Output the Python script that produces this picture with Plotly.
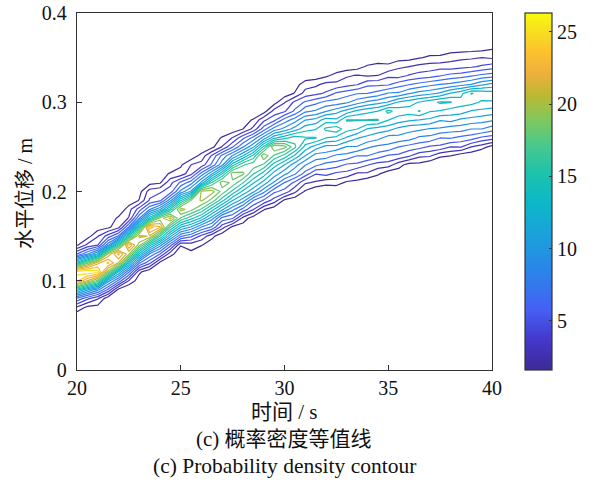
import plotly.graph_objects as go

FONT = "Liberation Serif, Noto Sans CJK SC"
DARK = "#333333"

times = [20 + 0.5 * i for i in range(41)]
first_y = [6, 6, 7, 8, 8, 9, 10, 11, 11, 12, 13, 13, 13, 14, 15, 15, 16, 17, 17, 18, 18,
           19, 20, 20, 20, 20, 21, 21, 21, 22, 22, 22, 23, 23, 23, 23, 24, 24, 24, 25, 25]
density_columns = [
    [0.5, 2.6, 6.5, 14, 24, 25.5, 14, 5.5, 1.4],
    [0.1, 1.2, 4.5, 11, 21, 26.2, 18, 8, 3.2, 1.0],
    [1.1, 3.0, 8.5, 18, 25.6, 22, 11, 4.2, 2.8, 0.9],
    [0.7, 5.2, 10, 19, 24, 20, 9, 4.8, 1.3, 0.6],
    [0.5, 1.2, 6.5, 12, 21, 24.2, 16, 7, 2.5, 1.9, 0.3],
    [0.1, 2.8, 7, 13, 20, 23.8, 15, 7, 3, 2.4, 0.5],
    [0.8, 1.9, 7, 13, 19, 21.5, 15, 8, 4.8, 1.7, 1.1],
    [0.6, 4.5, 8, 14, 21, 24.4, 14, 8, 4.4, 3.5, 1.1, 0.5],
    [0.4, 1.2, 5.5, 10, 16, 22.6, 19, 10.5, 5.2, 4, 1.4, 0.8],
    [0.2, 2.1, 6, 11, 16, 21.5, 15, 9, 4.8, 3.8, 1.8, 0.1],
    [0.7, 1.7, 7, 12, 17, 20.4, 14.5, 8.5, 5.8, 2.1, 1.4, 0.1],
    [1.3, 2.1, 5.8, 10.5, 15, 19, 18.6, 11, 7.5, 3.8, 2.9, 0.7, 0.3],
    [0.1, 1.7, 3.8, 8, 13, 17, 20, 20.2, 11, 7.3, 3.4, 2.1, 0.3],
    [0.8, 2, 6.6, 10, 14, 18, 20.4, 16, 10.5, 5.8, 4.4, 1.2, 0.6],
    [0.6, 3.4, 6.3, 11, 15, 18, 19.2, 14.5, 9, 7.2, 3, 1.8, 0.2],
    [0.3, 1.2, 5.6, 8.5, 12, 15.5, 18.2, 19.2, 14, 9.5, 5.4, 3, 0.7],
    [0.9, 2.4, 6.4, 10, 13, 16, 18.8, 17, 12, 8, 5.2, 1.6, 0.9],
    [0.8, 4.3, 6.8, 11, 13.5, 16, 18, 15, 10.5, 7.3, 3.3, 1.8, 0.2],
    [0.5, 1.7, 5.3, 8.5, 11.5, 14, 17, 19.6, 15, 10, 6.2, 3.9, 1],
    [0.8, 3.6, 5.8, 9.2, 11.5, 14, 17, 19.8, 13, 8.7, 5.2, 3.4, 1],
    [0.4, 1.3, 5, 6.8, 9.8, 12, 15.4, 19, 14.2, 9.8, 7.4, 4, 2.8, 0.8],
    [0.7, 3.2, 5.2, 8.3, 10, 13, 16.2, 15.3, 11.3, 8.8, 5.8, 4.5, 1.7, 1],
    [1.4, 3.1, 6.3, 8.2, 10.7, 12.8, 14.8, 12.8, 10.7, 7.8, 5.7, 3.4, 2.3, 0.6],
    [0.4, 2.7, 4.3, 7.2, 8.8, 11.4, 14.7, 13.2, 11.2, 8.3, 6.4, 3.8, 2.6, 0.8],
    [0.6, 2.0, 4.7, 6.3, 8.8, 10.3, 13.3, 14.9, 12.7, 9.3, 7.2, 4.4, 3.3, 1.3, 0.6],
    [0.2, 2.3, 3.9, 6.2, 7.8, 10.3, 12.9, 15.5, 12.3, 10.2, 7.3, 5.7, 3.2, 2.1, 0.5],
    [1.3, 3.8, 5.3, 7.7, 9.3, 11.8, 13.8, 14.7, 11.2, 7.9, 6.2, 3.7, 2.7, 0.8],
    [1.2, 2.7, 5.2, 6.8, 9.3, 10.8, 13.3, 14.7, 12.3, 8.8, 6.7, 4.1, 3, 1],
    [0.5, 2.7, 4.3, 6.8, 8.3, 10.3, 11.9, 14.7, 12.9, 9.7, 6.8, 5.2, 2.7, 1.8, 0.4],
    [1.9, 3.6, 6.2, 7.8, 9.8, 11.4, 14.7, 13.3, 10.2, 7.3, 5.2, 2.9, 2.2, 0.5],
    [0.7, 3.6, 5.3, 7.8, 8.8, 11.2, 13.3, 15, 10.8, 8.2, 5.3, 3.9, 1.8, 1.1],
    [0.9, 2.1, 5.2, 6.8, 9, 10.3, 12.7, 14, 12.2, 8.3, 6.2, 3.6, 2.7, 1],
    [1.1, 4.4, 6.3, 8.7, 9.8, 12.2, 13.9, 12.7, 9.3, 6.7, 4.3, 2.9, 1.1],
    [1.2, 3.2, 6, 7.8, 9.7, 11.9, 14.7, 13.4, 9.9, 7.2, 4.7, 3.3, 1.5, 0.7],
    [0.5, 3.1, 5.3, 7.7, 9.3, 11.7, 13.4, 14.1, 10.3, 7.7, 4.9, 3.5, 1.8, 0.9],
    [0.4, 1.8, 5.2, 6.8, 9.2, 10.8, 13.2, 14.8, 10.9, 8.1, 5.4, 3.7, 1.8, 1],
    [1.6, 4.2, 6.9, 8.7, 11.1, 12.7, 14.7, 12.1, 8.4, 5.9, 3.5, 2.4, 0.9],
    [0.8, 4.3, 6.4, 8.7, 10.4, 12.7, 13.8, 12.9, 8.9, 6.1, 3.8, 2.6, 1],
    [0.7, 2.9, 6.1, 8.1, 10.2, 11.9, 13.8, 14.7, 9.4, 6.6, 4, 2.7, 1.1],
    [2.2, 5.2, 8.1, 9.9, 11.7, 13.1, 14.2, 10.4, 7.1, 4.4, 2.9, 1.2],
    [1.1, 4.8, 7.4, 9.6, 11.4, 13.2, 13.9, 11.1, 7.4, 4.8, 2.7, 1.5],
]
y_cells = list(range(0, 41))
y_values = [c / 100 for c in y_cells]

z = [[0.0 for _ in times] for _ in y_cells]
for col, (start, values) in enumerate(zip(first_y, density_columns)):
    for k, v in enumerate(values):
        z[start + k][col] = v

parula = [
    [0.00, "#3e2a98"], [0.08, "#4436c8"], [0.17, "#4560f5"], [0.27, "#2c82ea"],
    [0.37, "#1c9fdc"], [0.47, "#0cb8c8"], [0.55, "#1cc2ac"], [0.63, "#48c98c"],
    [0.70, "#80c85e"], [0.77, "#bcb832"], [0.83, "#edb03c"], [0.89, "#fdc02e"],
    [0.95, "#f6e01e"], [1.00, "#f9fb0e"],
]

fig = go.Figure()
fig.add_trace(go.Contour(
    x=times, y=y_values, z=z,
    zmin=1.6, zmax=26.3, colorscale=parula, showscale=False,
    autocontour=False,
    contours=dict(start=1.6, end=26.3, size=1.3, coloring="lines"),
    line=dict(width=1.2, smoothing=0),
    hoverinfo="skip",
))
fig.add_trace(go.Scatter(
    x=[None, None], y=[None, None], mode="markers", showlegend=False,
    marker=dict(
        color=[1.6, 26.3], cmin=1.6, cmax=26.3, colorscale=parula, showscale=True,
        colorbar=dict(
            x=525 / 594, xanchor="left", xref="paper",
            y=(484 - 370) / 484, yanchor="bottom", yref="paper",
            len=357 / 484, lenmode="fraction",
            thickness=27, thicknessmode="pixels",
            outlinecolor=DARK, outlinewidth=1.2,
            ticks="inside", ticklen=3, tickcolor=DARK, tickwidth=1,
            tickvals=[5, 10, 15, 20, 25],
            tickfont=dict(family=FONT, size=20, color="#111"),
            xpad=0, ypad=0,
        ),
    ),
))


def caption(text, y_px, size):
    return dict(text=text, x=284 / 594, y=(484 - y_px) / 484, xref="paper", yref="paper",
                xanchor="center", yanchor="middle", showarrow=False,
                font=dict(family=FONT, size=size, color="#111"))


fig.update_layout(
    width=594, height=484, margin=dict(l=0, r=0, t=0, b=0, autoexpand=False),
    plot_bgcolor="white", paper_bgcolor="white", showlegend=False,
    font=dict(family=FONT, size=20, color="#111"),
    xaxis=dict(
        domain=[77 / 594, 492 / 594], range=[20, 40], tickvals=[20, 25, 30, 35, 40],
        ticks="inside", ticklen=5, tickcolor=DARK, showline=True, mirror=True,
        linecolor=DARK, linewidth=1.3, showgrid=False, zeroline=False,
    ),
    yaxis=dict(
        domain=[(484 - 370) / 484, (484 - 13) / 484], range=[0, 0.4],
        tickvals=[0, 0.1, 0.2, 0.3, 0.4], ticktext=["0", "0.1", "0.2", "0.3", "0.4"],
        ticks="inside", ticklen=5, tickcolor=DARK, showline=True, mirror=True,
        linecolor=DARK, linewidth=1.3, showgrid=False, zeroline=False, ticklabelstandoff=5,
    ),
    annotations=[
        dict(text="水平位移 / m", x=25 / 594, y=(484 - 193) / 484, xref="paper", yref="paper", textangle=-90,
             xanchor="center", yanchor="middle",
             showarrow=False, font=dict(family=FONT, size=20, color="#111")),
        caption("时间 / s", 412, 21),
        caption("(c) 概率密度等值线", 439, 21),
        caption("(c) Probability density contour", 466, 21.5),
    ],
)
fig.write_html("out.html", post_script="document.body.style.margin='0';", config=dict(displayModeBar=False))
